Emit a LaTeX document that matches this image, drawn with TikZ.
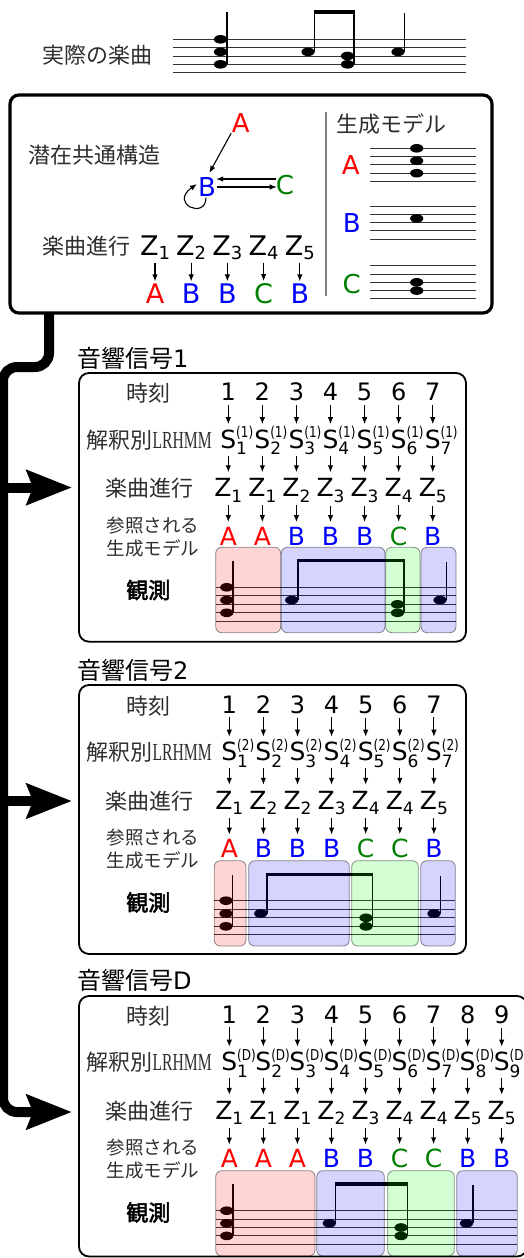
\documentclass[tikz,border=0pt]{standalone}
\usepackage{graphicx}
\usepackage{fontspec}
\setmainfont{DejaVu Sans}
\newfontfamily\cjk{Noto Sans CJK JP}
\newfontfamily\cjkb[FakeBold=2.5]{Noto Sans CJK JP}
\newfontfamily\lrserif{Liberation Serif}
\usetikzlibrary{arrows.meta}
\definecolor{grn}{RGB}{0,128,0}

\newcommand{\Sv}[2]{S\rlap{\raisebox{10.5pt}{\scalebox{0.8}[1]{\fontsize{15}{15}\selectfont(#2)}}}\raisebox{-6.5pt}{\fontsize{17}{17}\selectfont #1}}
\newcommand{\Zv}[1]{Z\raisebox{-5.5pt}{\fontsize{17}{17}\selectfont #1}}
\newcommand{\Zt}[1]{Z\raisebox{-4pt}{\fontsize{18}{18}\selectfont #1}}
\newcommand{\stafflines}[4]{\foreach \kk in {0,...,4}{\draw[stl] (#1,{#3+\kk*#4}) -- (#2,{#3+\kk*#4});}}
\newcommand{\nhead}[2]{\fill (#1,#2) ellipse [x radius=6.6pt, y radius=4.3pt];}
\newcommand{\obsnotes}[7]{%
 \pgfmathsetmacro\ya{#1}\pgfmathsetmacro\yb{#1+1.5*#2}\pgfmathsetmacro\yc{#1+2*#2}\pgfmathsetmacro\yd{#1+3*#2}%
 \nhead{#3}{\ya}\nhead{#3}{\yb}\nhead{#3}{\yd}%
 \draw[stem] ({#3+6.4},#7) -- ({#3+6.4},\yd);
 \nhead{#4}{\yb}%
 \draw[stem] ({#4+6.4},#7) -- ({#4+6.4},\yb);
 \draw[beam] ({#4+5.7},#7) -- ({#5+7.1},#7);
 \nhead{#5}{\yc}\nhead{#5}{\yd}%
 \draw[stem] ({#5+6.4},#7) -- ({#5+6.4},\yd);
 \nhead{#6}{\yb}%
 \draw[stem] ({#6+6.4},{#7+1}) -- ({#6+6.4},\yb);
}
\newcommand{\panel}[7]{%
\begin{scope}[shift={(0,#2)}]
\node[ttl] (#1-title) at (77,358) {{\cjk 音響信号}#7};
\node[lab] (#1-tl) at (148.3,393.3) {時刻};
\node[lab] (#1-sl) at (149.2,440) {解釈別\scalebox{0.64}[1]{\lrserif\fontsize{24.5}{24.5}\selectfont LRHMM}};
\node[lab] (#1-zl) at (149.2,488.3) {楽曲進行};
\node[labs] (#1-ml) at (153,536.7) {参照される\\生成モデル};
\node[labb] (#1-ol) at (148.3,590) {観測};
\foreach \ii/\zz/\lett/\colr in {#6}{
  \pgfmathsetmacro\cx{#3+#4*(\ii-1)}
  \node[num] (#1-n\ii) at (\cx,400.7) {\ii};
  \node[sym] (#1-s\ii) at ({\cx+5.4},448.3) {\Sv{\ii}{#5}};
  \node[sym] (#1-z\ii) at (\cx,496.7) {\Zv{\zz}};
  \node[sym, text=\colr] (#1-l\ii) at (\cx,545) {\lett};
  \draw[arr, shorten <=4pt, shorten >=2pt] (#1-n\ii.south) -- (#1-n\ii.south |- #1-s\ii.north);
  \draw[arr, shorten <=0.5pt, shorten >=6pt] (#1-n\ii.south |- #1-s\ii.south) -- (#1-n\ii.south |- #1-z\ii.north);
  \draw[arr, shorten <=3pt, shorten >=4.5pt] (#1-n\ii.south |- #1-z\ii.south) -- (#1-n\ii.south |- #1-l\ii.north);
}
\end{scope}}

\begin{document}
\begin{tikzpicture}[x=1pt,y=-1pt,
 lab/.style={font=\cjk\fontsize{22}{22}\selectfont, text=black!82, inner sep=0pt},
 labs/.style={font=\cjk\fontsize{18.5}{23.3}\selectfont, text=black!82, inner sep=0pt, align=left},
 labb/.style={font=\cjkb\fontsize{22}{22}\selectfont, inner sep=0pt},
 ttl/.style={font=\fontsize{24}{24}\selectfont, inner sep=0pt, anchor=west},
 num/.style={font=\fontsize{24}{24}\selectfont, inner sep=0pt, anchor=base},
 sym/.style={font=\fontsize{25}{25}\selectfont, inner sep=0pt, anchor=base},
 zt/.style={font=\fontsize{27}{27}\selectfont, inner sep=0pt, anchor=base},
 gl/.style={font=\fontsize{26}{26}\selectfont, inner sep=0pt},
 arr/.style={line width=1.1pt, -{Latex[length=7pt,width=5.5pt]}},
 stl/.style={line width=0.9pt, black!80},
 stem/.style={line width=1.4pt},
 beam/.style={line width=3.2pt},
 reg/.style={draw=black, draw opacity=0.45, rounded corners=6pt, line width=0.8pt, fill opacity=0.17},
 rA/.style={reg, fill=red},
 rB/.style={reg, fill=blue},
 rC/.style={reg, fill=green},
 pbox/.style={line width=1.8pt, rounded corners=10pt},
 fat/.style={line width=10pt},
 fattip/.style={-{Stealth[length=45pt,width=34pt,inset=6pt]}}
]
\useasboundingbox (0,0) rectangle (523,1258);

% ---------- actual piece ----------
\node[lab] (real) at (97,55) {実際の楽曲};
\stafflines{173}{466}{39.3}{8.35}
\obsnotes{39.3}{8.35}{220.5}{308}{347.5}{398}{12}

% ---------- latent structure box ----------
\draw[line width=3.2pt, rounded corners=9pt] (10,95) rectangle (492,313);
\node[lab] (lat) at (94,155.5) {潜在共通構造};
\node[gl, text=red] (gA) at (240.7,122.7) {A};
\node[gl, text=blue] (gB) at (207,187) {B};
\node[gl, text=grn] (gC) at (285,185.5) {C};
\draw[arr, shorten <=1pt, shorten >=5pt] (gA.south west) -- (gB.north);
\draw[arr] ([yshift=6.5pt]gC.west) -- ([yshift=6.5pt]gC.west -| gB.east);
\draw[arr] ([shift={(1pt,0pt)}]gB.east) -- ([shift={(1pt,0pt)}]gB.east -| gC.west);
\draw[arr] ([shift={(-1pt,-1pt)}]gB.south) .. controls +(0,22) and +(-28,20) .. ([shift={(-1pt,3pt)}]gB.west);

\node[lab] (prog) at (86,246.5) {楽曲進行};
\foreach \ii/\lett/\colr in {1/A/red,2/B/blue,3/B/blue,4/C/grn,5/B/blue}{
  \pgfmathsetmacro\cx{155+36.2*(\ii-1)}
  \node[zt] (tz\ii) at (\cx,255) {\Zt{\ii}};
  \node[zt, text=\colr] (tl\ii) at (\cx,303.3) {\lett};
  \draw[arr, shorten <=3.4pt, shorten >=2pt] (tz\ii.south) -- (tz\ii.south |- tl\ii.north);
}

\draw[line width=1.5pt, black!50] (326,112) -- (326,296);
\node[lab] (gen) at (391,124.5) {生成モデル};
\node[gl, text=red] (mA) at (350.7,165) {A};
\node[gl, text=blue] (mB) at (351.7,223) {B};
\node[gl, text=grn] (mC) at (351.7,284) {C};
\stafflines{370}{476}{148.3}{8.3}
\nhead{416.7}{148.3}\nhead{416.7}{160.75}\nhead{416.7}{173.2}
\stafflines{370}{476}{206}{8.3}
\nhead{416.7}{218.45}
\stafflines{370}{476}{265.7}{8.3}
\nhead{416.7}{282.3}\nhead{416.7}{290.6}

% ---------- connectors ----------
\coordinate (j0) at (49,313);
\coordinate (k1) at (3,487.5); \coordinate (t1) at (72,487.5);
\coordinate (k2) at (3,801);   \coordinate (t2) at (72,801);
\coordinate (t3) at (72,1112);
\draw[fat, fattip, rounded corners=14pt] (j0) -- (49,367) -- (3,367) -- (3,1112) -- (t3);
\draw[fat, fattip] (k1) -- (t1);
\draw[fat, fattip] (k2) -- (t2);

% ---------- panel 1 ----------
\draw[pbox] (79,373) rectangle (466,641.7);
\panel{p1}{0}{228.3}{34.07}{1}{1/1/A/red,2/1/A/red,3/2/B/blue,4/3/B/blue,5/3/B/blue,6/4/C/grn,7/5/B/blue}{1}
\stafflines{215.7}{456}{587.3}{8.5}
\obsnotes{587.3}{8.5}{226.7}{291.7}{397.5}{440}{560.5}
\draw[rA] (215.7,547.3) rectangle (280.7,632.7);
\draw[rB] (281.3,547.3) rectangle (385,632.7);
\draw[rC] (385.7,547.3) rectangle (420,632.7);
\draw[rB] (421,547.3) rectangle (456,632.7);

% ---------- panel 2 ----------
\draw[pbox] (79,685) rectangle (466,954);
\panel{p2}{312.5}{229.3}{34.1}{2}{1/1/A/red,2/2/B/blue,3/2/B/blue,4/3/B/blue,5/4/C/grn,6/4/C/grn,7/5/B/blue}{2}
\stafflines{214.3}{455.3}{900.7}{8.55}
\obsnotes{900.7}{8.55}{226}{260.7}{366}{434}{874.5}
\draw[rA] (214.3,860.7) rectangle (246,946);
\draw[rB] (248.7,860.7) rectangle (349.3,946);
\draw[rC] (351.7,860.7) rectangle (418.3,946);
\draw[rB] (420.7,860.7) rectangle (455.3,946);

% ---------- panel D ----------
\draw[pbox] (79,996) rectangle (527,1256.5);
\panel{pD}{622.5}{229.3}{34.05}{D}{1/1/A/red,2/1/A/red,3/1/A/red,4/2/B/blue,5/3/B/blue,6/4/C/grn,7/4/C/grn,8/5/B/blue,9/5/B/blue}{D}
\stafflines{215.7}{517}{1210.7}{8.4}
\obsnotes{1210.7}{8.4}{226.7}{329.3}{401}{466.5}{1184}
\draw[rA] (215.7,1170.7) rectangle (315,1256);
\draw[rB] (316.7,1170.7) rectangle (384.3,1256);
\draw[rC] (387.7,1170.7) rectangle (454.3,1256);
\draw[rB] (456.7,1170.7) rectangle (517.3,1256);
\end{tikzpicture}
\end{document}
